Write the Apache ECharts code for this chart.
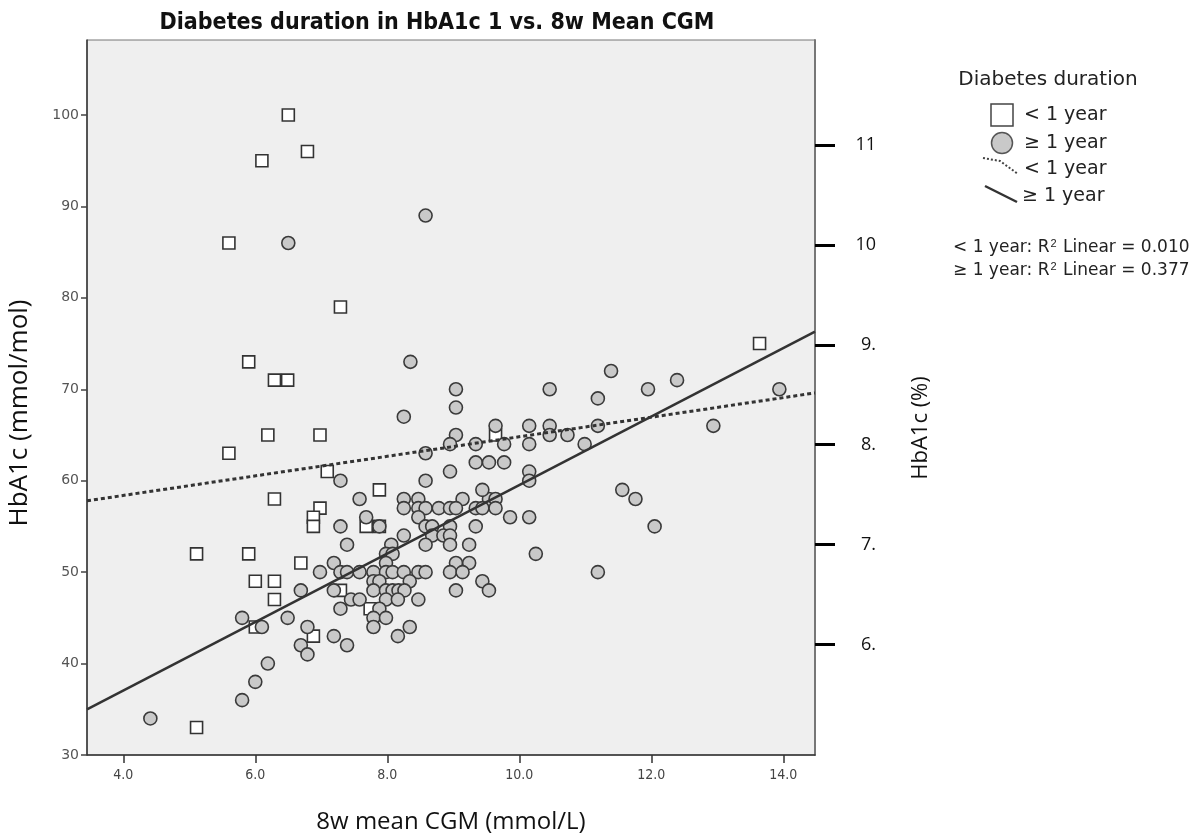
<!DOCTYPE html>
<html>
<head>
<meta charset="utf-8">
<script src="https://cdn.jsdelivr.net/npm/echarts@6/dist/echarts.min.js"></script>
<style>
	html, body { margin: 0; padding: 0; background: #fff; }
	#chart { width: 1199px; height: 839px; }
</style>
</head>
<body>
<div id="chart"></div>
<script>
// points: [8w mean CGM, HbA1c mmol/mol]
var shortDuration = [
	[6.5,100],[6.1,95],[6.79,96],[5.6,86],[7.29,79],[5.9,73],[6.29,71],[6.49,71],
	[6.19,65],[6.98,65],[5.6,63],[7.09,61],[7.88,59],[6.29,58],[6.98,57],[6.88,56],
	[6.88,55],[7.68,55],[7.88,55],[5.11,52],[5.9,52],[6.69,51],[6.0,49],[6.29,49],
	[6.29,47],[7.29,48],[7.74,46],[6.0,44],[6.88,43],[5.11,33],[13.64,75],[9.64,65]
];
var longDuration = [
	[6.5,86],[8.58,89],[8.35,73],[8.25,67],[8.58,63],[7.29,60],[8.58,60],
	[7.58,58],[8.25,58],[8.47,58],[9.14,58],[9.54,58],[9.64,58],[11.76,58],
	[8.25,57],[8.47,57],[8.58,57],[8.78,57],[8.95,57],[9.04,57],[9.34,57],[9.44,57],[9.64,57],
	[7.68,56],[8.47,56],[9.86,56],[10.15,56],
	[7.29,55],[7.88,55],[8.58,55],[8.68,55],[8.95,55],[9.34,55],[12.05,55],
	[8.25,54],[8.68,54],[8.85,54],[8.95,54],
	[7.39,53],[8.06,53],[8.58,53],[8.95,53],[9.24,53],
	[7.98,52],[8.08,52],[10.25,52],
	[7.19,51],[7.98,51],[9.04,51],[9.24,51],
	[6.98,50],[7.29,50],[7.39,50],[7.58,50],[7.79,50],[7.98,50],[8.08,50],[8.25,50],
	[8.47,50],[8.58,50],[8.95,50],[9.14,50],[11.19,50],
	[7.79,49],[7.88,49],[8.34,49],[9.44,49],
	[6.69,48],[7.19,48],[7.79,48],[7.98,48],[8.08,48],[8.17,48],[8.26,48],[9.04,48],[9.54,48],
	[7.45,47],[7.58,47],[7.98,47],[8.16,47],[8.47,47],
	[7.29,46],[7.88,46],
	[5.8,45],[6.49,45],[7.79,45],[7.98,45],
	[6.1,44],[6.79,44],[7.79,44],[8.34,44],
	[7.19,43],[8.16,43],[6.69,42],[7.39,42],
	[6.79,41],[6.19,40],[6.0,38],[5.8,36],[4.41,34],
	[9.04,70],[10.46,70],[11.95,70],[13.94,70],[9.04,68],[11.39,72],[12.39,71],[11.19,69],
	[9.64,66],[10.15,66],[10.46,66],[11.19,66],[12.94,66],
	[9.04,65],[10.46,65],[10.73,65],
	[8.95,64],[9.34,64],[9.77,64],[10.15,64],[10.99,64],
	[9.34,62],[9.54,62],[9.77,62],
	[8.95,61],[10.15,61],[10.15,60],[9.44,59],[11.56,59]
];
// fit lines, end points at the plot edges
var fitShort = [[3.45,57.8],[14.48,69.6]];
var fitLong = [[3.45,35.0],[14.48,76.3]];

var xTicks = [4,6,8,10,12,14];
var yTicks = [30,40,50,60,70,80,90,100];
var pctTicks = [6,7,8,9,10,11];
var pctLabels = {6:'6.',7:'7.',8:'8.',9:'9.',10:'10',11:'11'};

var xMin = 3.45, xMax = 14.48, yMin = 30, yMax = 108.2;
// HbA1c % = mmol/mol / 10.929 + 2.15
function toPct(v) { return v / 10.929 + 2.15; }

var myChart = echarts.init(document.getElementById('chart'));
var font = "'Open Sans', sans-serif";
var legendFont = "'DejaVu Sans', sans-serif";

option = {
	animation: false,
	backgroundColor: '#fff',
	grid: {
		left: 87, top: 40, width: 728, height: 724,
		show: true, backgroundColor: '#efefef', borderColor: '#777', borderWidth: 1
	},
	xAxis: {
		type: 'value', min: xMin, max: xMax,
		name: '8w mean CGM (mmol/L)', nameLocation: 'middle', nameGap: 55,
		nameTextStyle: { fontSize: 24, fontFamily: font, color: '#111' },
		axisLine: { lineStyle: { color: '#333', width: 1.5 } },
		axisTick: { customValues: xTicks, length: 8, lineStyle: { color: '#333', width: 1.5 } },
		axisLabel: { customValues: xTicks, margin: 13, fontSize: 14, color: '#444',
			fontFamily: "'Liberation Sans Narrow', 'DejaVu Sans Condensed', sans-serif",
			formatter: function(v) { return v.toFixed(1); } },
		splitLine: { show: false }
	},
	yAxis: [
		{
			type: 'value', min: yMin, max: yMax,
			axisLine: { show: true, lineStyle: { color: '#333', width: 1.5 } },
			axisTick: { customValues: yTicks, length: 6, lineStyle: { color: '#444', width: 1.5 } },
			axisLabel: { customValues: yTicks, margin: 8, fontSize: 14, color: '#555', fontFamily: legendFont },
			splitLine: { show: false }
		},
		{
			type: 'value', position: 'right', min: toPct(yMin), max: toPct(yMax),
			axisLine: { show: true, lineStyle: { color: '#777', width: 2 } },
			axisTick: { customValues: pctTicks, length: 20, lineStyle: { color: '#000', width: 3 } },
			axisLabel: { customValues: pctTicks, margin: 61, align: 'right', fontSize: 18, color: '#111',
				fontFamily: font, formatter: function(v) { return pctLabels[v]; } },
			splitLine: { show: false }
		}
	],
	series: [
		{
			name: '< 1 year', type: 'scatter', data: shortDuration, symbol: 'rect', symbolSize: 12, z: 2,
			itemStyle: { color: '#fff', borderColor: '#333', borderWidth: 1.6, opacity: 1 }
		},
		{
			name: '≥ 1 year', type: 'scatter', data: longDuration, symbol: 'circle', symbolSize: 13, z: 3,
			itemStyle: { color: '#c9c9c9', borderColor: '#3a3a3a', borderWidth: 1.6, opacity: 1 }
		},
		{
			type: 'line', data: fitShort, symbol: 'none', z: 4, silent: true,
			lineStyle: { color: '#333', width: 3, type: [4, 3] }
		},
		{
			type: 'line', data: fitLong, symbol: 'none', z: 4, silent: true,
			lineStyle: { color: '#333', width: 2.5 }
		}
	],
	graphic: [
		{ type: 'text', x: 437, y: 23, style: { text: 'Diabetes duration in HbA1c 1 vs. 8w Mean CGM',
			font: "bold 23px 'Liberation Sans Narrow', 'DejaVu Sans Condensed', sans-serif", fill: '#111',
			textAlign: 'center', textVerticalAlign: 'middle' } },
		{ type: 'text', x: 20, y: 413, rotation: Math.PI / 2, style: { text: 'HbA1c (mmol/mol)',
			font: "26px 'Open Sans', sans-serif", fill: '#111', textAlign: 'center', textVerticalAlign: 'middle' } },
		{ type: 'text', x: 921, y: 428, rotation: Math.PI / 2, style: { text: 'HbA1c (%)',
			font: "22px 'Open Sans', sans-serif", fill: '#111', textAlign: 'center', textVerticalAlign: 'middle' } },
		// legend
		{ type: 'text', x: 1048, y: 80, style: { text: 'Diabetes duration', font: "20px 'DejaVu Sans', sans-serif",
			fill: '#222', textAlign: 'center', textVerticalAlign: 'middle' } },
		{ type: 'rect', shape: { x: 991, y: 104, width: 22, height: 22 }, style: { fill: '#fff', stroke: '#444', lineWidth: 1.5 } },
		{ type: 'text', x: 1024, y: 115, style: { text: '< 1 year', font: "19px 'DejaVu Sans', sans-serif", fill: '#222', textVerticalAlign: 'middle' } },
		{ type: 'circle', shape: { cx: 1002, cy: 143, r: 10.5 }, style: { fill: '#c9c9c9', stroke: '#555', lineWidth: 1.5 } },
		{ type: 'text', x: 1024, y: 143, style: { text: '≥ 1 year', font: "19px 'DejaVu Sans', sans-serif", fill: '#222', textVerticalAlign: 'middle' } },
		{ type: 'polyline', shape: { points: [[983,158],[1000,161],[1018,174]] }, style: { stroke: '#444', lineWidth: 2, lineDash: [2, 2], fill: null } },
		{ type: 'text', x: 1024, y: 169, style: { text: '< 1 year', font: "19px 'DejaVu Sans', sans-serif", fill: '#222', textVerticalAlign: 'middle' } },
		{ type: 'line', shape: { x1: 985, y1: 186, x2: 1017, y2: 202 }, style: { stroke: '#333', lineWidth: 2.5 } },
		{ type: 'text', x: 1022, y: 196, style: { text: '≥ 1 year', font: "19px 'DejaVu Sans', sans-serif", fill: '#222', textVerticalAlign: 'middle' } },
		{ type: 'text', x: 953, y: 248, style: { text: '< 1 year: R{sup|2} Linear = 0.010', font: "17px 'DejaVu Sans', sans-serif",
			fill: '#222', textVerticalAlign: 'middle', rich: { sup: { fontSize: 11, verticalAlign: 'top', padding: [0, 1, 9, 1], fill: '#222' } } } },
		{ type: 'text', x: 953, y: 271, style: { text: '≥ 1 year: R{sup|2} Linear = 0.377', font: "17px 'DejaVu Sans', sans-serif",
			fill: '#222', textVerticalAlign: 'middle', rich: { sup: { fontSize: 11, verticalAlign: 'top', padding: [0, 1, 9, 1], fill: '#222' } } } }
	]
};

if (option && typeof option === "object") {
	myChart.setOption(option, true);
}
</script>
</body>
</html>
